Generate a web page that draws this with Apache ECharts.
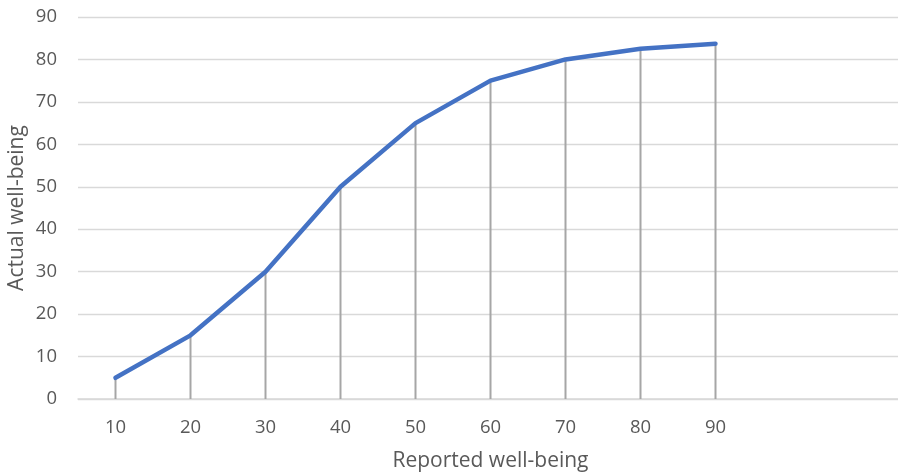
<!DOCTYPE html>
<html>
<head>
<meta charset="utf-8">
<script src="https://cdn.jsdelivr.net/npm/echarts@6/dist/echarts.min.js"></script>
<style>html,body{margin:0;padding:0;background:#fff}#c{width:898px;height:473px}</style>
</head>
<body>
<div id="c"></div>
<script>
const categories = ['10','20','30','40','50','60','70','80','90','',''];
const actual = [5, 15, 30, 50, 65, 75, 80, 82.5, 83.7, null, null];
const yTicks = [0, 90, 10];
const xTitle = 'Reported well-being';
const yTitle = 'Actual well-being';

const chart = echarts.init(document.getElementById('c'));
const font = '"Open Sans", sans-serif';
chart.setOption({
  animation: false,
  grid: { left: 78, top: 17, width: 825, bottom: 74, containLabel: false, outerBoundsMode: 'none' },
  xAxis: {
    type: 'category', data: categories, boundaryGap: true,
    name: xTitle, nameLocation: 'middle', nameGap: 52, nameMoveOverlap: false,
    nameTextStyle: { color: '#595959', fontSize: 21, fontFamily: font },
    axisLine: { show: true, lineStyle: { color: '#d9d9d9', width: 1.5 } },
    axisTick: { show: false },
    axisLabel: { color: '#595959', fontSize: 18.5, fontFamily: font, margin: 19, interval: 0 },
    splitLine: { show: false }
  },
  yAxis: {
    type: 'value', min: yTicks[0], max: yTicks[1], interval: yTicks[2],
    name: yTitle, nameLocation: 'middle', nameGap: 50, nameRotate: 90, nameMoveOverlap: false,
    nameTextStyle: { color: '#595959', fontSize: 21, fontFamily: font },
    axisLine: { show: false }, axisTick: { show: false },
    axisLabel: { color: '#595959', fontSize: 18.5, fontFamily: font, margin: 21 },
    splitLine: { lineStyle: { color: '#d9d9d9', width: 1.3 } }
  },
  series: [
    {
      type: 'bar', data: actual, barWidth: 2, barGap: '-100%',
      itemStyle: { color: '#a6a6a6' }, z: 1, silent: true
    },
    {
      type: 'line', data: actual, showSymbol: false, symbol: 'none',
      lineStyle: { color: '#4472c4', width: 4.5, cap: 'round', join: 'round' },
      z: 3
    }
  ]
});
</script>
</body>
</html>
